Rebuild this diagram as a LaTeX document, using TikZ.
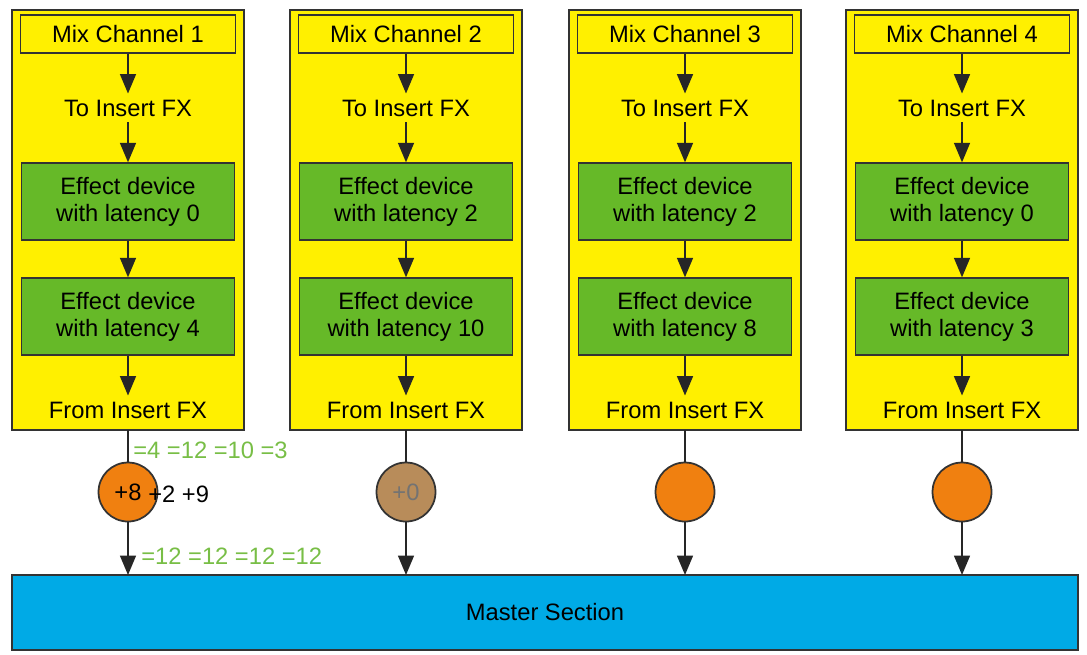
\documentclass[tikz,border=0pt]{standalone}
\usepackage{fontspec}
\setmainfont{Liberation Sans}
\usetikzlibrary{arrows.meta}
\definecolor{ylw}{RGB}{255,240,0}
\definecolor{grn}{RGB}{102,185,40}
\definecolor{org}{RGB}{240,128,16}
\definecolor{brn}{RGB}{184,140,90}
\definecolor{blu}{RGB}{0,170,230}
\definecolor{lab}{RGB}{120,190,70}
\begin{document}
\begin{tikzpicture}[x=0.02cm,y=-0.02cm,
  every node/.style={font=\fontsize{13.5}{15.5}\selectfont},
  col/.style={draw=black!80,line width=1pt,fill=ylw},
  mix/.style={draw=black!80,line width=0.8pt,fill=ylw,minimum width=4.3cm,minimum height=0.76cm,inner sep=0pt},
  fx/.style={draw=black!80,line width=0.8pt,fill=grn,minimum width=4.26cm,minimum height=1.54cm,align=center,inner sep=0pt},
  arr/.style={-{Triangle[length=11pt,width=9pt]},line width=1pt,draw=black!85},
  circ/.style={circle,draw=black!80,line width=1pt,minimum size=1.18cm,inner sep=0pt},
  lbl/.style={text=lab}]
\useasboundingbox (0,0) rectangle (1087,654);
\foreach \i/\x/\a/\b in {1/128/0/4,2/406/2/10,3/685/2/8,4/962/0/3}{
  \draw[col] (\x-116,10) rectangle (\x+116,430);
  \node[mix] (m\i) at (\x,34) {Mix Channel \i};
  \node (t\i) at (\x,108) {To Insert FX};
  \node[fx] (e\i) at (\x,201.5) {Effect device\\with latency \a};
  \node[fx] (f\i) at (\x,316.5) {Effect device\\with latency \b};
  \node (o\i) at (\x,410) {From Insert FX};
  \coordinate (b\i) at (\x,430);
  \coordinate (s\i) at (\x,575);
  \draw[arr] (m\i) -- (t\i);
  \draw[arr] (t\i) -- (e\i);
  \draw[arr] (e\i) -- (f\i);
  \draw[arr] (f\i) -- (o\i);
}
\draw[draw=black!80,line width=1pt,fill=blu] (12,575) rectangle (1078,650);
\node (ms) at (545,612) {Master Section};
\node[circ,fill=org] (c1) at (128,492) {+8};
\node[circ,fill=brn,text=black!55] (c2) at (406,492) {+0};
\node[circ,fill=org] (c3) at (685,492) {};
\node[circ,fill=org] (c4) at (962,492) {};
\foreach \i in {1,...,4}{
  \draw[line width=1pt,draw=black!85] (b\i) -- (c\i);
  \draw[arr] (c\i) -- (s\i);
}
\node[lbl,anchor=west,inner sep=0pt] (l1) at (133,450) {=4 =12 =10 =3};
\node[anchor=west,inner sep=0pt] (l2) at (148,494) {+2 +9};
\node[lbl,anchor=west,inner sep=0pt] (l3) at (141,556) {=12 =12 =12 =12};
\end{tikzpicture}
\end{document}
